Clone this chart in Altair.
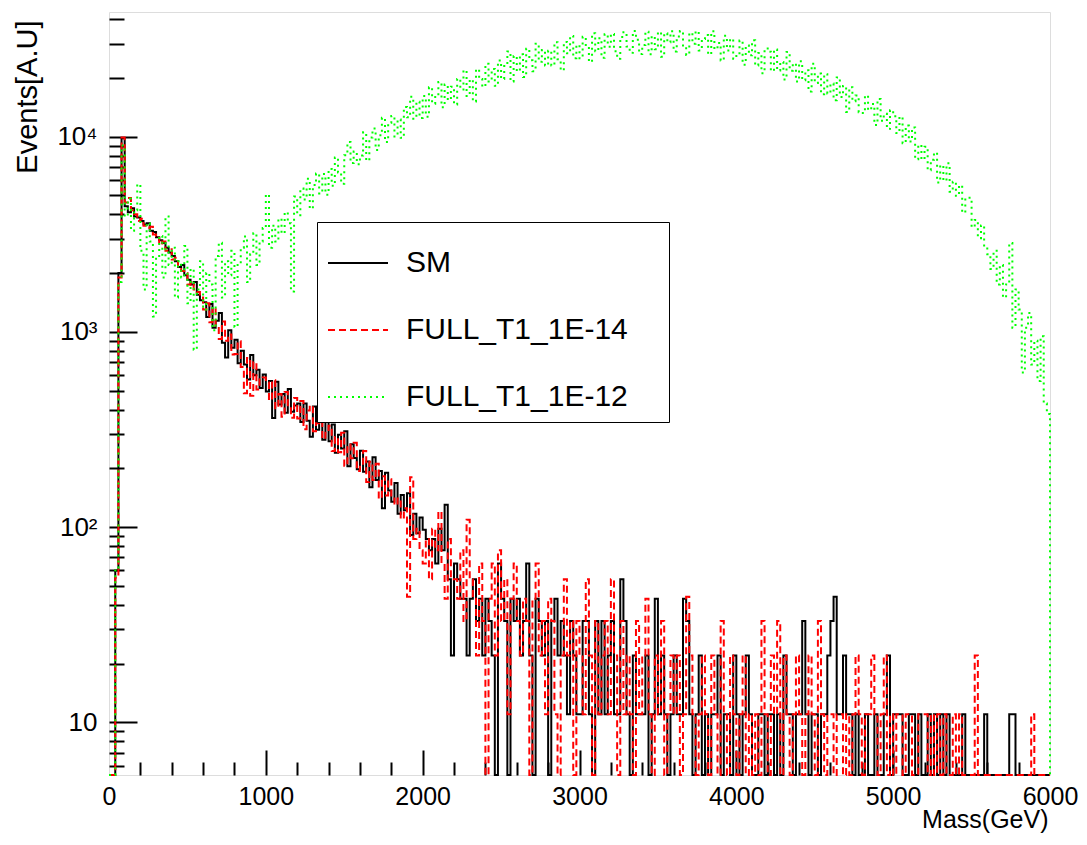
import altair as alt
import pandas as pd

# ---------------- data (20 GeV bins, 0-6000 GeV) ----------------
bin_edges = list(range(0, 6000, 20))

series_names = ["SM", "FULL_T1_1E-14", "FULL_T1_1E-12"]

sm = [
    0, 0, 60, 2000, 9800, 4400, 4100, 4300, 3900, 3850,
    3700, 3550, 3600, 3300, 3250, 3050, 2950, 2850, 2700, 2550,
    2450, 2300, 2150, 2200, 1950, 1850, 1750, 1800, 1550, 1450,
    1420, 1190, 1390, 1050, 1140, 1250, 880, 740, 1020, 830,
    910, 690, 800, 680, 570, 760, 600, 640, 515, 605,
    495, 560, 362, 555, 425, 480, 385, 510, 390, 420,
    430, 345, 430, 350, 290, 415, 315, 360, 280, 360,
    275, 335, 240, 297, 253, 310, 205, 266, 226, 198,
    246, 192, 217, 160, 228, 174, 194, 125, 190, 154,
    135, 168, 117, 146, 122, 149, 91, 117, 93, 112,
    97, 87, 76, 87, 65, 98, 76, 130, 54, 22,
    65, 54, 43, 43, 22, 43, 54, 33, 43, 22,
    43, 33, 22, 0, 65, 43, 33, 0, 43, 33,
    43, 22, 33, 65, 22, 0, 43, 33, 22, 33,
    0, 33, 43, 22, 33, 22, 11, 33, 22, 11,
    11, 33, 33, 11, 0, 33, 11, 33, 11, 22,
    33, 11, 11, 54, 33, 11, 0, 22, 11, 11,
    11, 22, 0, 11, 43, 11, 22, 11, 0, 11,
    22, 11, 11, 43, 33, 11, 0, 11, 22, 0,
    11, 0, 11, 11, 22, 0, 11, 11, 0, 22,
    11, 0, 11, 22, 11, 0, 0, 11, 11, 0,
    11, 11, 0, 11, 0, 22, 11, 11, 0, 11,
    11, 33, 11, 0, 11, 11, 0, 11, 11, 22,
    33, 44, 11, 11, 22, 11, 11, 0, 11, 0,
    0, 11, 0, 0, 11, 0, 0, 11, 22, 0,
    11, 11, 11, 0, 0, 11, 11, 0, 11, 0,
    0, 11, 0, 11, 0, 11, 0, 11, 0, 0,
    0, 0, 11, 0, 0, 0, 0, 0, 0, 11,
    0, 0, 0, 0, 0, 0, 0, 11, 11, 0,
    0, 0, 0, 0, 0, 0, 0, 0, 0, 0,
]

t1_1e14 = [
    0, 0, 55, 1900, 9900, 4600, 4850, 4200, 4000, 3700,
    3800, 3500, 3400, 3450, 3150, 3100, 2800, 2900, 2600, 2650,
    2350, 2400, 2100, 2050, 2000, 1750, 1800, 1650, 1600, 1500,
    1300, 1400, 1120, 1330, 1070, 920, 1130, 900, 970, 765,
    770, 895, 660, 485, 735, 470, 700, 507, 572, 583,
    551, 447, 565, 406, 480, 367, 492, 412, 363, 459,
    360, 442, 317, 395, 419, 310, 340, 399, 283, 304,
    330, 245, 289, 242, 304, 206, 265, 225, 270, 194,
    207, 245, 170, 216, 174, 211, 140, 182, 145, 176,
    145, 130, 140, 110, 125, 44, 180, 87, 98, 76,
    65, 87, 54, 98, 76, 120, 65, 43, 87, 54,
    54, 43, 76, 33, 109, 54, 43, 22, 65, 33,
    0, 43, 65, 22, 76, 33, 54, 11, 43, 65,
    33, 22, 43, 33, 0, 43, 65, 22, 33, 11,
    43, 33, 11, 0, 22, 54, 22, 33, 0, 33,
    22, 11, 54, 22, 0, 33, 11, 22, 33, 11,
    54, 22, 0, 33, 11, 22, 11, 0, 33, 11,
    22, 43, 11, 0, 22, 11, 33, 0, 11, 22,
    11, 22, 0, 11, 44, 22, 11, 0, 11, 22,
    11, 0, 22, 11, 0, 33, 11, 0, 22, 11,
    0, 11, 22, 0, 11, 0, 11, 0, 33, 11,
    0, 22, 11, 33, 0, 22, 11, 0, 11, 22,
    11, 0, 11, 22, 11, 0, 33, 11, 0, 11,
    11, 0, 11, 11, 0, 11, 0, 11, 22, 11,
    0, 11, 11, 22, 11, 0, 11, 22, 0, 11,
    0, 11, 11, 0, 11, 11, 0, 0, 11, 11,
    11, 0, 11, 0, 11, 0, 11, 0, 0, 11,
    0, 11, 0, 0, 0, 0, 22, 0, 0, 0,
    0, 0, 0, 0, 0, 0, 0, 0, 0, 0,
    0, 0, 0, 0, 11, 0, 0, 0, 0, 0,
]

t1_1e12 = [
    0, 0, 60, 1800, 9000, 3900, 4800, 3300, 4200, 5700,
    2600, 1650, 3600, 2900, 1200, 2400, 3100, 1900, 3900, 2200,
    2700, 1500, 2300, 1900, 2750, 1400, 2100, 810, 1650, 2300,
    1300, 2000, 1750, 1020, 2450, 2860, 1500, 2300, 1950, 2600,
    1060, 2200, 2700, 3080, 1800, 2500, 3200, 2200, 2900, 3400,
    5050, 2700, 3500, 2900, 3800, 3200, 4100, 3600, 1610, 4930,
    3960, 5420, 4760, 6080, 4280, 5650, 6470, 5120, 6430, 5040,
    6830, 5600, 7830, 6560, 5730, 8030, 9390, 7330, 8400, 7230,
    8000, 10520, 7540, 9890, 11010, 8550, 10170, 12480, 9390, 11770,
    12760, 10020, 12250, 9860, 14190, 12560, 16000, 12350, 15100, 12470,
    16130, 12640, 17890, 14760, 16250, 19070, 14150, 18490, 15420, 18020,
    14620, 19760, 17420, 21860, 16150, 19580, 15150, 22110, 19710, 18020,
    23600, 19170, 22230, 18200, 24570, 19750, 23000, 27270, 19180, 25850,
    21620, 26390, 20210, 28230, 24610, 21650, 29950, 24170, 27780, 23140,
    27560, 23110, 30490, 24890, 21890, 30550, 26710, 32790, 25240, 29430,
    25190, 32450, 28920, 24190, 33890, 27390, 31940, 25340, 33490, 28910,
    33600, 27380, 25050, 32390, 34300, 28920, 26870, 34800, 31330, 26490,
    29450, 34500, 26430, 32690, 28060, 34340, 25640, 33820, 30420, 34700,
    27320, 32610, 34760, 28770, 26230, 33980, 29890, 34600, 27630, 31620,
    33170, 26420, 34710, 28060, 30190, 24580, 32850, 27600, 31660, 25080,
    26320, 31050, 23330, 29340, 26080, 31130, 23170, 26840, 21140, 28310,
    27250, 21710, 27980, 21840, 24140, 19600, 27140, 21760, 23670, 19140,
    24300, 19470, 21870, 17020, 23600, 18840, 21060, 16480, 20900, 16650,
    18720, 15370, 20110, 15980, 18170, 13390, 17920, 15200, 16250, 13350,
    13200, 16240, 13710, 14690, 11460, 15600, 12060, 13090, 10960, 13660,
    12720, 10430, 12630, 9260, 11390, 9450, 11150, 7660, 9060, 7640,
    8880, 6730, 7620, 8280, 5820, 7130, 5950, 7300, 5220, 5880,
    4980, 5620, 4080, 4820, 4860, 3440, 3740, 3020, 3510, 2720,
    2500, 2100, 2600, 1750, 2200, 1500, 1750, 2850, 1050, 1650,
    1300, 620, 1050, 1250, 680, 900, 560, 950, 430, 380,
]

x_major_ticks = [1000, 2000, 3000, 4000, 5000]
x_minor_ticks = [200, 400, 600, 800, 1200, 1400, 1600, 1800, 2200, 2400, 2600, 2800,
                 3200, 3400, 3600, 3800, 4200, 4400, 4600, 4800, 5200, 5400, 5600, 5800]
x_label_values = [0, 1000, 2000, 3000, 4000, 5000, 6000]
y_major_ticks = [10, 100, 1000, 10000]
y_minor_ticks = [6, 7, 8, 9, 20, 30, 40, 50, 60, 70, 80, 90,
                 200, 300, 400, 500, 600, 700, 800, 900,
                 2000, 3000, 4000, 5000, 6000, 7000, 8000, 9000,
                 20000, 30000, 40000]

# ---------------- table ----------------
rows = []
idx = 0
for name, vals in zip(series_names, [sm, t1_1e14, t1_1e12]):
    pts = list(zip(bin_edges, vals)) + [(6000, vals[-1]), (6000, 0)]
    for e, v in pts:
        rows.append({"series": name, "mass": e, "events": v, "idx": idx})
        idx += 1
df = pd.DataFrame(rows)

W, H = 941, 763
FONT = "Liberation Sans"

x_scale = alt.Scale(domain=[0, 6000], nice=False, zero=False)
y_scale = alt.Scale(type="log", domain=[5.37, 43500], nice=False, clamp=True)

legend = alt.Legend(
    title=None, orient="none", legendX=208, legendY=210,
    fillColor="white", strokeColor="black", padding=10,
    symbolType="stroke", symbolSize=3600, symbolStrokeWidth=2,
    labelFont=FONT, labelFontSize=30, labelColor="black", labelOffset=17,
    labelLimit=600, rowPadding=21,
    labelExpr="datum.label + '\u00a0\u2800'",
)

base = alt.Chart(df).transform_calculate(yv="max(datum.events, 1)")

lines = base.mark_line(interpolate="step-after", strokeWidth=2).encode(
    x=alt.X("mass:Q", scale=x_scale, axis=alt.Axis(
        orient="bottom", values=x_label_values, format="d", ticks=False, tickSize=0,
        domain=False, grid=False, labelFont=FONT, labelFontSize=25, labelColor="black",
        labelPadding=9, labelFlush=False, labelOverlap=False, labelBaseline="top",
        title="Mass(GeV)", titleFont=FONT, titleFontSize=25, titleFontWeight="normal",
        titleColor="black", titleAnchor="end", titleAlign="right", titleBaseline="top",
        titleX=W - 2, titleY=32)),
    y=alt.Y("yv:Q", scale=y_scale, axis=alt.Axis(
        orient="left", values=y_major_ticks, ticks=False, tickSize=0, domain=False, grid=False,
        labelExpr="datum.value == 10000 ? '10\u2074' : datum.value == 1000 ? '10\u00b3' : datum.value == 100 ? '10\u00b2' : '10'",
        labelFont=FONT, labelFontSize=26, labelColor="black", labelPadding=12,
        labelFlush=False, labelOverlap=False,
        title="Events[A.U]", titleFont=FONT, titleFontSize=29, titleFontWeight="normal",
        titleColor="black", titleAngle=270, titleAnchor="end", titleAlign="right",
        titleBaseline="middle", titleX=-82, titleY=8)),
    color=alt.Color("series:N", scale=alt.Scale(domain=series_names,
                    range=["#000000", "#ff0000", "#00ff00"]), legend=legend),
    strokeDash=alt.StrokeDash("series:N", scale=alt.Scale(domain=series_names,
                    range=[[1, 0], [7, 4], [2, 4]]), legend=legend),
    order=alt.Order("idx:Q"),
)


def tick_layer(xvals, xsize, yvals, ysize):
    return base.mark_line(opacity=0).encode(
        x=alt.X("mass:Q", scale=x_scale, axis=alt.Axis(
            orient="top", offset=-H, values=xvals, tickSize=xsize, tickWidth=2,
            tickColor="black", labels=False, domain=False, grid=False, title=None)),
        y=alt.Y("yv:Q", scale=y_scale, axis=alt.Axis(
            orient="right", offset=-W, values=yvals, tickSize=ysize, tickWidth=2,
            tickColor="black", labels=False, domain=False, grid=False, title=None)),
        order=alt.Order("idx:Q"),
    )


minor = tick_layer(x_minor_ticks, 13, y_minor_ticks, 15)
major = tick_layer(x_major_ticks, 25, y_major_ticks, 28)

chart = alt.layer(lines, minor, major).resolve_scale(
    x="independent", y="independent"
).properties(
    width=W, height=H,
    padding={"left": 101, "top": 4, "right": 29, "bottom": 58},
    autosize=alt.AutoSizeParams(type="none"),
).configure_view(
    stroke="black", strokeWidth=2
).configure_legend(
    strokeWidth=2
).configure(font=FONT)

chart.save("out.html", embed_options={"renderer": "svg", "actions": False})
